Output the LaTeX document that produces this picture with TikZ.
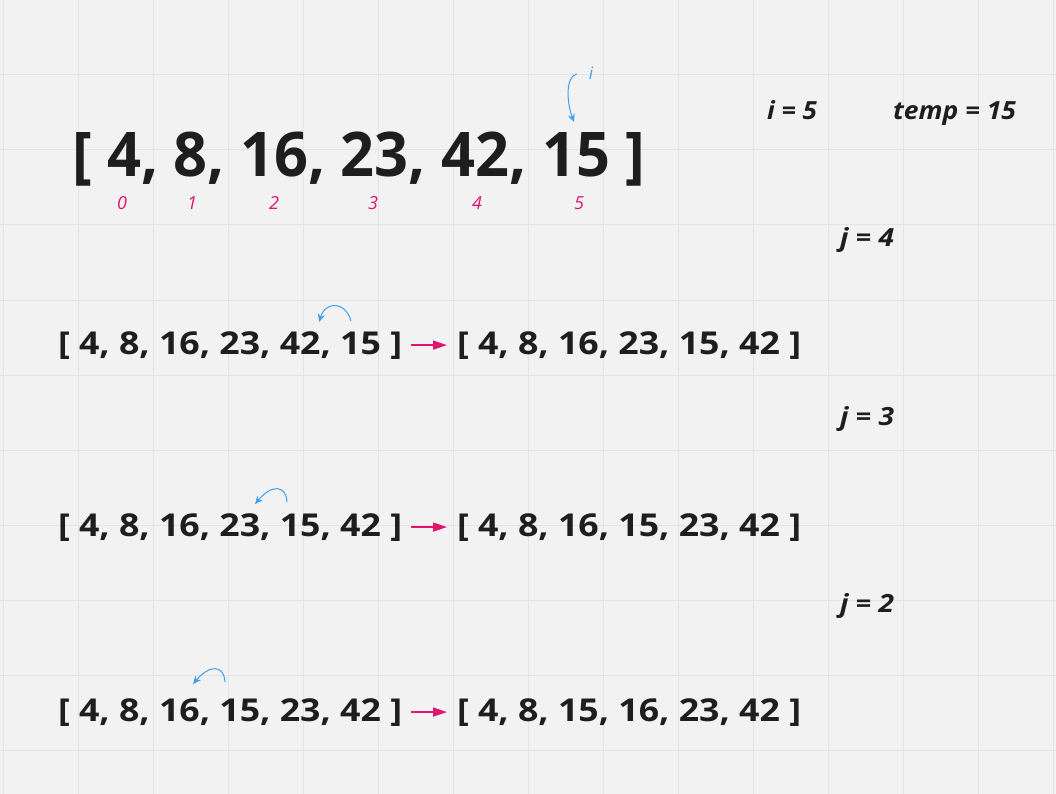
\documentclass[tikz,border=0pt]{standalone}
\usepackage{fontspec}
\setmainfont{Open Sans}
\usepackage{graphicx}
\usetikzlibrary{arrows.meta}
\definecolor{bg}{HTML}{F2F2F2}
\definecolor{gridc}{HTML}{E4E4E4}
\definecolor{ink}{HTML}{1E1E1E}
\definecolor{pinkc}{HTML}{E0156D}
\definecolor{bluec}{HTML}{3DA0EE}
\newcommand{\fitw}[2]{\resizebox{#1}{\height}{#2}}
\newcommand{\rowf}{\fontsize{31.5}{32}\selectfont\bfseries}
\newcommand{\labf}{\fontsize{25}{25}\selectfont\bfseries\itshape}
\begin{document}
\begin{tikzpicture}[x=1pt,y=-1pt,
  txt/.style={inner sep=0pt, outer sep=0pt, anchor=base west, text=ink},
  idx/.style={inner sep=0pt, anchor=base, text=pinkc, font=\fontsize{18}{18}\selectfont\itshape},
  swaparrow/.style={draw=pinkc, line width=1.5pt, -{Triangle[length=14pt,width=9pt]}, shorten <=9pt, shorten >=10pt},
  hop/.style={draw=bluec, line width=1pt, -{Stealth[length=8pt,width=7pt]}}
]
\useasboundingbox (0,0) rectangle (1056,794);
\fill[bg] (0,0) rectangle (1056,794);
\foreach \x in {3,78,...,1053} \draw[gridc, line width=1pt] (\x,0) -- (\x,794);
\foreach \y in {0,75,...,750} \draw[gridc, line width=1pt] (0,\y) -- (1056,\y);

% top array
\node[txt] (top) at (72,177) {\fitw{573pt}{\fontsize{61.6}{62}\selectfont\bfseries [ 4, 8, 16, 23, 42, 15 ]}};
\node[idx] (i0) at (122,210) {0};
\node[idx] (i1) at (192,210) {1};
\node[idx] (i2) at (274,210) {2};
\node[idx] (i3) at (373,210) {3};
\node[idx] (i4) at (477,210) {4};
\node[idx] (i5) at (579,210) {5};

\node[inner sep=0pt, anchor=base, text=bluec, font=\fontsize{17}{17}\selectfont\itshape] (ilab) at (591,80) {i};
\coordinate (ia) at (577,74);
\coordinate (itip) at (574,122);
\draw[hop] (ia) .. controls (566,76) and (566,100) .. (itip);

% labels
\node[txt, font=\labf] (iv) at (767,120) {\fitw{50pt}{i = 5}};
\node[txt, font=\labf] (tv) at (893,120) {\fitw{123pt}{temp = 15}};
\node[txt, font=\labf] (j4) at (840,246) {\fitw{54pt}{j = 4}};
\node[txt, font=\labf] (j3) at (840,425) {\fitw{54pt}{j = 3}};
\node[txt, font=\labf] (j2) at (840,612) {\fitw{54pt}{j = 2}};

% row 2
\node[txt] (r2l) at (58,354) {\fitw{344pt}{\rowf [ 4, 8, 16, 23, 42, 15 ]}};
\node[txt] (r2r) at (457,354) {\fitw{344pt}{\rowf [ 4, 8, 16, 23, 15, 42 ]}};
\draw[swaparrow] (r2l.east) -- (r2r.west);
\coordinate (h2a) at (351,321);
\coordinate (h2b) at (319,322);
\draw[hop] (h2a) .. controls (346,302) and (326,300) .. (h2b);

% row 3
\node[txt] (r3l) at (58,536) {\fitw{344pt}{\rowf [ 4, 8, 16, 23, 15, 42 ]}};
\node[txt] (r3r) at (457,536) {\fitw{344pt}{\rowf [ 4, 8, 16, 15, 23, 42 ]}};
\draw[swaparrow] (r3l.east) -- (r3r.west);
\coordinate (h3a) at (287,502);
\coordinate (h3b) at (255,504);
\draw[hop] (h3a) .. controls (286,485) and (272,484) .. (h3b);

% row 4
\node[txt] (r4l) at (58,721) {\fitw{344pt}{\rowf [ 4, 8, 16, 15, 23, 42 ]}};
\node[txt] (r4r) at (457,721) {\fitw{344pt}{\rowf [ 4, 8, 15, 16, 23, 42 ]}};
\draw[swaparrow] (r4l.east) -- (r4r.west);
\coordinate (h4a) at (225,682);
\coordinate (h4b) at (193,684);
\draw[hop] (h4a) .. controls (224,665) and (210,664) .. (h4b);
\end{tikzpicture}
\end{document}
